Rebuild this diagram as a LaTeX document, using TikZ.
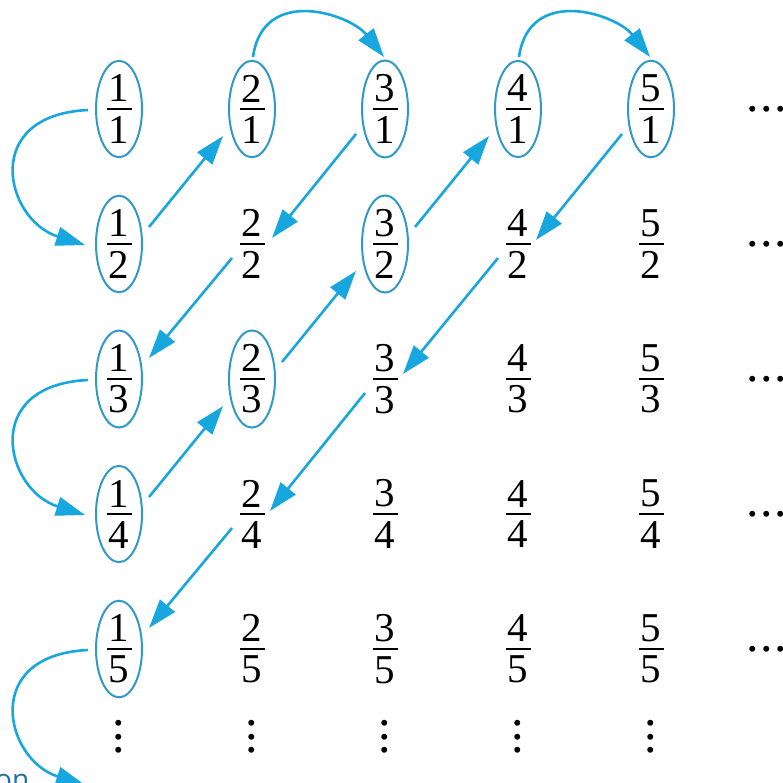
\documentclass[tikz,border=0pt]{standalone}
\usepackage{fontspec}
\setmainfont{Liberation Serif}
\newfontfamily\numfont{Liberation Serif}
\newfontfamily\capfont{Open Sans}
\usetikzlibrary{arrows.meta,shapes.geometric}
\definecolor{arrblue}{RGB}{24,166,222}
\definecolor{ellblue}{RGB}{50,152,198}
\definecolor{captxt}{RGB}{34,112,160}
\newcommand{\fr}[2]{\vbox{\offinterlineskip\hbox to 25pt{\hss#1\hss}\kern6pt\hrule height 2pt\kern6pt\hbox to 25pt{\hss#2\hss}}}
\newcommand{\hdts}{\hbox{.\kern1.6pt.\kern1.6pt.}}
\newcommand{\vdts}{\vbox{\offinterlineskip\hbox{.}\kern7.5pt\hbox{.}\kern7.5pt\hbox{.}}}
\begin{document}
\begin{tikzpicture}[x=1pt,y=-1pt,
  frac/.style={ellipse, inner sep=0pt, minimum width=46pt, minimum height=92pt,
    font=\numfont\fontsize{41}{44}\selectfont},
  circ/.style={frac, draw=ellblue, line width=2pt},
  dotsty/.style={inner sep=0pt, font=\numfont\fontsize{50}{52}\selectfont},
  arr/.style={draw=arrblue, line width=2.6pt, -{Triangle[length=29pt 0 0,width=19pt 0 0]}}]
\useasboundingbox (0,0) rectangle (782,783);
% row 1
\node[circ] (q11) at (119,109) {\fr{1}{1}};
\node[circ] (q21) at (252,109) {\fr{2}{1}};
\node[circ] (q31) at (385,109) {\fr{3}{1}};
\node[circ] (q41) at (518,109) {\fr{4}{1}};
\node[circ] (q51) at (651,109) {\fr{5}{1}};
% row 2
\node[circ] (q12) at (119,244) {\fr{1}{2}};
\node[frac] (q22) at (252,244) {\fr{2}{2}};
\node[circ] (q32) at (385,244) {\fr{3}{2}};
\node[frac] (q42) at (518,244) {\fr{4}{2}};
\node[frac] (q52) at (651,244) {\fr{5}{2}};
% row 3
\node[circ] (q13) at (119,379) {\fr{1}{3}};
\node[circ] (q23) at (252,379) {\fr{2}{3}};
\node[frac] (q33) at (385,379) {\fr{3}{3}};
\node[frac] (q43) at (518,379) {\fr{4}{3}};
\node[frac] (q53) at (651,379) {\fr{5}{3}};
% row 4
\node[circ] (q14) at (119,514) {\fr{1}{4}};
\node[frac] (q24) at (252,514) {\fr{2}{4}};
\node[frac] (q34) at (385,514) {\fr{3}{4}};
\node[frac] (q44) at (518,514) {\fr{4}{4}};
\node[frac] (q54) at (651,514) {\fr{5}{4}};
% row 5
\node[circ] (q15) at (119,649) {\fr{1}{5}};
\node[frac] (q25) at (252,649) {\fr{2}{5}};
\node[frac] (q35) at (385,649) {\fr{3}{5}};
\node[frac] (q45) at (518,649) {\fr{4}{5}};
\node[frac] (q55) at (651,649) {\fr{5}{5}};
% horizontal dots
\node[dotsty] (h1) at (767,109) {\hdts};
\node[dotsty] (h2) at (767,244) {\hdts};
\node[dotsty] (h3) at (767,379) {\hdts};
\node[dotsty] (h4) at (767,514) {\hdts};
\node[dotsty] (h5) at (767,649) {\hdts};
% vertical dots
\node[dotsty] (v1) at (119,737) {\vdts};
\node[dotsty] (v2) at (252,737) {\vdts};
\node[dotsty] (v3) at (385,737) {\vdts};
\node[dotsty] (v4) at (518,737) {\vdts};
\node[dotsty] (v5) at (651,737) {\vdts};
\coordinate (q16) at (119,784);
% caption fragment
\node[anchor=base west, inner sep=0pt, text=captxt, font=\capfont\fontsize{28}{30}\selectfont] (cap) at (-5,789) {on};
% arrows
\draw[arr] ([shift={(-31,1)}]q11.center) .. controls +(-108,5) and +(-80,-25) .. ([shift={(-34,1)}]q12.center);
\draw[arr] ([shift={(30,-17)}]q12.center) -- ([shift={(-29,27)}]q21.center);
\draw[arr] ([shift={(1,-52)}]q21.center) .. controls +(10,-72) and +(-34,-43) .. ([shift={(-1,-52)}]q31.center);
\draw[arr] ([shift={(-29,25)}]q31.center) -- ([shift={(20,-6)}]q22.center);
\draw[arr] ([shift={(-20,14)}]q22.center) -- ([shift={(30,-21)}]q13.center);
\draw[arr] ([shift={(-31,1)}]q13.center) .. controls +(-108,5) and +(-80,-25) .. ([shift={(-34,1)}]q14.center);
\draw[arr] ([shift={(30,-17)}]q14.center) -- ([shift={(-29,27)}]q23.center);
\draw[arr] ([shift={(30,-17)}]q23.center) -- ([shift={(-29,27)}]q32.center);
\draw[arr] ([shift={(30,-17)}]q32.center) -- ([shift={(-29,27)}]q41.center);
\draw[arr] ([shift={(1,-52)}]q41.center) .. controls +(10,-72) and +(-34,-43) .. ([shift={(-1,-52)}]q51.center);
\draw[arr] ([shift={(-29,25)}]q51.center) -- ([shift={(18,-4)}]q42.center);
\draw[arr] ([shift={(-20,14)}]q42.center) -- ([shift={(18,-5)}]q33.center);
\draw[arr] ([shift={(-20,14)}]q33.center) -- ([shift={(18,-3)}]q24.center);
\draw[arr] ([shift={(-20,14)}]q24.center) -- ([shift={(30,-21)}]q15.center);
\draw[arr] ([shift={(-31,1)}]q15.center) .. controls +(-108,5) and +(-80,-25) .. ([shift={(-34,1)}]q16);
\end{tikzpicture}
\end{document}
